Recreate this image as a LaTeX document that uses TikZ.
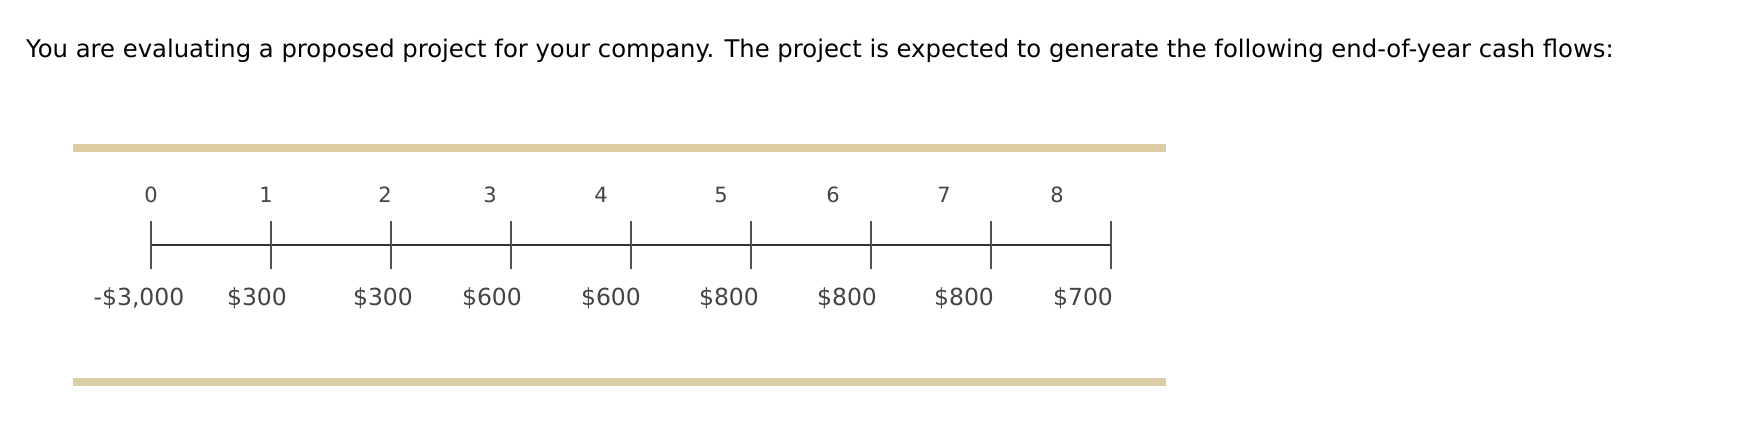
\documentclass[tikz,border=0pt]{standalone}
\usepackage{fontspec}
\setmainfont{DejaVu Sans}
\definecolor{bartan}{HTML}{DCCDA4}
\definecolor{axisgray}{HTML}{333333}
\definecolor{lblgray}{HTML}{444444}
\begin{document}
\begin{tikzpicture}[x=1pt,y=-1pt,
  bar/.style={fill=bartan,draw=none},
  tick/.style={draw=axisgray!85,line width=2.6pt},
  axisline/.style={draw=axisgray,line width=2.2pt},
  yearlbl/.style={font=\fontsize{21}{24}\selectfont,text=lblgray,inner sep=0pt,anchor=center},
  cashlbl/.style={font=\fontsize{23.5}{27}\selectfont,text=lblgray,inner sep=0pt,anchor=center},
  title/.style={font=\fontsize{24.3}{29}\selectfont,inner sep=0pt,anchor=base west}]
\useasboundingbox (0,0) rectangle (1760,440);
\node[title] (t) at (26,57) {You are evaluating a proposed project for your company. The project is expected to generate the following end-of-year cash flows:};
\fill[bar] (73,144) rectangle (1166,152);
\fill[bar] (73,378) rectangle (1166,386);
\coordinate (a0) at (151,245);
\coordinate (a8) at (1111,245);
\draw[axisline] (a0) -- (a8);
\foreach \i in {0,...,8} {
  \coordinate (k\i) at ({151+120*\i},245);
  \draw[tick] ([yshift=-24]k\i) -- ([yshift=24]k\i);
}
\foreach \x/\l [count=\c from 0] in {151/0,266/1,385/2,490/3,601/4,721/5,833/6,944/7,1057/8}
  \node[yearlbl] (y\c) at (\x,195) {\l};
\foreach \x/\l [count=\c from 0] in {139/-\$3{,}000,257/\$300,383/\$300,492/\$600,611/\$600,729/\$800,847/\$800,964/\$800,1083/\$700}
  \node[cashlbl] (c\c) at (\x,298) {\l};
\end{tikzpicture}
\end{document}
